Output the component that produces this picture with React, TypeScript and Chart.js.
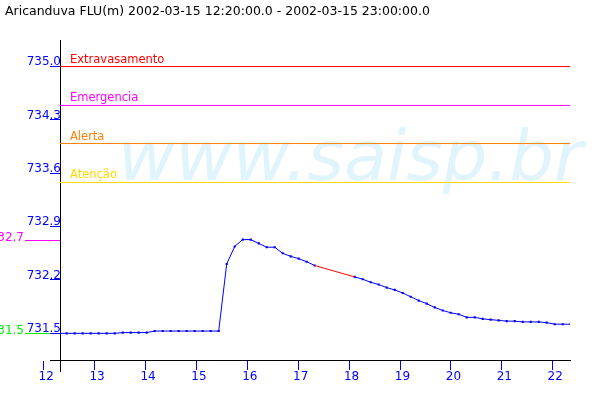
import React, { useEffect, useRef } from 'react';
import { Chart, registerables } from 'chart.js';

Chart.register(...registerables);

const TITLE = 'Aricanduva FLU(m) 2002-03-15 12:20:00.0 - 2002-03-15 23:00:00.0';
const WATERMARK = 'www.saisp.br';

const TIMES = [
  '12:20', '12:30', '12:40', '12:50',
  '13:00', '13:10', '13:20', '13:30', '13:40', '13:50',
  '14:00', '14:10', '14:20', '14:30', '14:40', '14:50',
  '15:00', '15:10', '15:20', '15:30', '15:40', '15:50',
  '16:00', '16:10', '16:20', '16:30', '16:40', '16:50',
  '17:00', '17:10', '17:20', '17:30', '17:40', '17:50',
  '18:00', '18:10', '18:20', '18:30', '18:40', '18:50',
  '19:00', '19:10', '19:20', '19:30', '19:40', '19:50',
  '20:00', '20:10', '20:20', '20:30', '20:40', '20:50',
  '21:00', '21:10', '21:20', '21:30', '21:40', '21:50',
  '22:00', '22:10', '22:20', '22:30', '22:40', '22:50',
  '23:00',
];

const LEVELS: (number | null)[] = [
  731.50, 731.50, 731.50, 731.50, 731.50, 731.50, 731.50, 731.50,
  731.51, 731.51, 731.51, 731.51,
  731.53, 731.53, 731.53, 731.53, 731.53, 731.53, 731.53, 731.53, 731.53,
  732.41, 732.64, 732.73, 732.73, 732.68, 732.63, 732.63, 732.55, 732.51, 732.48, 732.44, 732.39,
  null, null, null, null,
  732.24, 732.21, 732.17, 732.14, 732.10, 732.07, 732.03, 731.98, 731.93, 731.89, 731.84,
  731.80, 731.77, 731.75, 731.71, 731.71, 731.69, 731.68, 731.67, 731.66, 731.66,
  731.65, 731.65, 731.65, 731.64, 731.62, 731.62, 731.62,
];

const Y_TICKS = [731.5, 732.2, 732.9, 733.6, 734.3, 735.0];
const HOUR_TICKS = [12, 13, 14, 15, 16, 17, 18, 19, 20, 21, 22];

const THRESHOLD_NAMES = ['Extravasamento', 'Emergencia', 'Alerta', 'Atenção'];
const THRESHOLD_VALUES = [735.0, 734.49, 733.99, 733.48];
const THRESHOLD_COLORS = ['#ff0000', '#ff00ff', '#ff8000', '#ffd800'];

// layout / axis bounds
const DATA_X_MIN = 12.3604;
const DATA_X_MAX = 22.9854;
const HOUR_X_MIN = 12.318;
const HOUR_X_MAX = 22.338;
const Y_MIN = 731.1503;
const Y_MAX = 735.3404;

const FONT = '"DejaVu Sans"';
const BLUE = '#0000ff';

const toHours = (t: string) => {
  const [h, m] = t.split(':').map(Number);
  return h + m / 60;
};

const decor = {
  id: 'decor',
  beforeDraw(chart: any) {
    const { ctx, chartArea, scales } = chart;
    ctx.save();
    ctx.fillStyle = '#ffffff';
    ctx.fillRect(0, 0, chart.width, chart.height);
    // watermark
    ctx.font = `oblique 70px ${FONT}`;
    ctx.fillStyle = '#e0f4fc';
    ctx.textBaseline = 'alphabetic';
    ctx.textAlign = 'left';
    ctx.fillText(WATERMARK, 118, 180);
    // max / min markers
    const vals = LEVELS.filter((v) => v !== null) as number[];
    const maxV = Math.max(...vals);
    const minV = Math.min(...vals);
    const marks: [number, string][] = [
      [maxV, '#ff00ff'],
      [minV, '#00ee00'],
    ];
    ctx.font = `12px ${FONT}`;
    ctx.textAlign = 'right';
    ctx.lineWidth = 1;
    for (const [v, c] of marks) {
      const py = Math.round(scales.y.getPixelForValue(v)) + 0.5;
      ctx.strokeStyle = c;
      ctx.beginPath();
      ctx.moveTo(25, py);
      ctx.lineTo(chartArea.left, py);
      ctx.stroke();
      ctx.fillStyle = c;
      ctx.fillText(v.toFixed(1), 24, py);
    }
    ctx.restore();
  },
  afterDatasetsDraw(chart: any) {
    const { ctx, chartArea, scales } = chart;
    ctx.save();
    ctx.font = `11.5px ${FONT}`;
    ctx.textAlign = 'left';
    ctx.textBaseline = 'alphabetic';
    THRESHOLD_VALUES.forEach((v, i) => {
      const py = scales.y.getPixelForValue(v);
      ctx.fillStyle = THRESHOLD_COLORS[i];
      ctx.fillText(THRESHOLD_NAMES[i], chartArea.left + 10, py - 4);
    });
    ctx.restore();
  },
  afterDraw(chart: any) {
    const { ctx, chartArea } = chart;
    ctx.save();
    ctx.strokeStyle = '#000000';
    ctx.lineWidth = 1;
    ctx.beginPath();
    ctx.moveTo(chartArea.left + 0.5, chartArea.bottom);
    ctx.lineTo(chartArea.left + 0.5, chartArea.bottom + 12);
    ctx.moveTo(chartArea.left - 10, chartArea.bottom + 0.5);
    ctx.lineTo(chartArea.left, chartArea.bottom + 0.5);
    ctx.stroke();
    ctx.restore();
  },
};

// Segments bridging missing readings (drawn in red), built from LEVELS
const buildGapPoints = () => {
  const pts: { x: number; y: number | null }[] = [];
  for (let i = 1; i < LEVELS.length; i++) {
    if (LEVELS[i] === null && LEVELS[i - 1] !== null) {
      let j = i;
      while (j < LEVELS.length && LEVELS[j] === null) j++;
      if (j < LEVELS.length) {
        pts.push({ x: toHours(TIMES[i - 1]), y: LEVELS[i - 1] });
        pts.push({ x: toHours(TIMES[j]), y: LEVELS[j] });
        pts.push({ x: toHours(TIMES[j]), y: null });
      }
    }
  }
  return pts;
};

export default function App() {
  const ref = useRef<HTMLCanvasElement | null>(null);

  useEffect(() => {
    if (!ref.current) return;
    const thresholdSets = THRESHOLD_VALUES.map((v, i) => ({
      label: THRESHOLD_NAMES[i],
      data: [
        { x: DATA_X_MIN, y: v },
        { x: DATA_X_MAX, y: v },
      ],
      xAxisID: 'x',
      yAxisID: 'y',
      borderColor: THRESHOLD_COLORS[i],
      borderWidth: 1,
      pointRadius: 0,
    }));
    const gap = {
      label: 'gap',
      data: buildGapPoints(),
      xAxisID: 'x',
      yAxisID: 'y',
      borderColor: '#ff0000',
      borderWidth: 1,
      pointRadius: 0,
      spanGaps: false,
    };
    const main = {
      label: 'FLU',
      data: TIMES.map((t, i) => ({ x: toHours(t), y: LEVELS[i] })),
      xAxisID: 'x',
      yAxisID: 'y',
      borderColor: BLUE,
      borderWidth: 1,
      pointRadius: 1.5,
      pointStyle: 'rect',
      pointBackgroundColor: BLUE,
      pointBorderWidth: 0,
      spanGaps: false,
    };
    const chart = new Chart(ref.current, {
      type: 'line',
      data: { datasets: [...thresholdSets, gap, main] as any },
      plugins: [decor],
      options: {
        responsive: false,
        animation: false,
        layout: { padding: { left: 5, right: 30, top: 0, bottom: 0 } },
        plugins: {
          legend: { display: false },
          tooltip: { enabled: false },
          title: {
            display: true,
            text: TITLE,
            align: 'start',
            color: '#000000',
            font: { family: FONT, size: 12.5, weight: 'normal' },
            padding: { top: 4, bottom: 21.6 },
          },
        },
        scales: {
          x: {
            type: 'linear',
            display: false,
            min: DATA_X_MIN,
            max: DATA_X_MAX,
          },
          x2: {
            type: 'linear',
            position: 'bottom',
            min: HOUR_X_MIN,
            max: HOUR_X_MAX,
            afterBuildTicks: (s: any) => {
              s.ticks = HOUR_TICKS.map((v) => ({ value: v }));
            },
            afterFit: (s: any) => {
              s.height = 40;
            },
            border: { display: true, color: '#000000', width: 1 },
            grid: {
              display: true,
              drawOnChartArea: false,
              drawTicks: true,
              tickLength: 10,
              tickColor: BLUE,
            },
            ticks: {
              autoSkip: false,
              maxRotation: 0,
              minRotation: 0,
              color: BLUE,
              padding: 0,
              labelOffset: 2.4,
              font: { family: FONT, size: 12 },
              callback: (v: any) => String(v),
            },
          },
          y: {
            type: 'linear',
            position: 'left',
            min: Y_MIN,
            max: Y_MAX,
            afterBuildTicks: (s: any) => {
              s.ticks = Y_TICKS.map((v) => ({ value: v }));
            },
            afterFit: (s: any) => {
              s.width = 55;
            },
            border: { display: true, color: '#000000', width: 1 },
            grid: {
              display: true,
              drawOnChartArea: false,
              drawTicks: true,
              tickLength: 10,
              tickColor: BLUE,
            },
            ticks: {
              color: BLUE,
              padding: -11,
              labelOffset: -4.5,
              font: { family: FONT, size: 12 },
              callback: (v: any) => Number(v).toFixed(1),
            },
          },
        },
      } as any,
    });
    return () => chart.destroy();
  }, []);

  return (
    <div style={{ position: 'absolute', left: 0, top: 0, width: 600, height: 400 }}>
      <canvas ref={ref} width={600} height={400} style={{ display: 'block' }} />
    </div>
  );
}
